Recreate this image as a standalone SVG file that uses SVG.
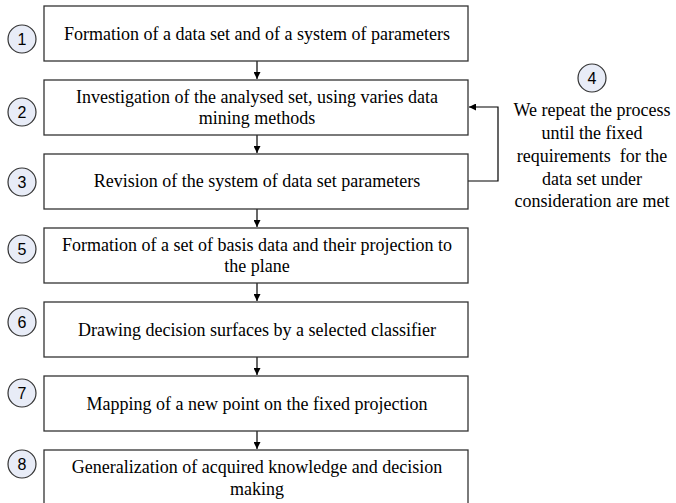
<svg xmlns="http://www.w3.org/2000/svg" width="676" height="503" viewBox="0 0 676 503">
  <defs>
    <style>
      .box { fill: #ffffff; stroke: #333333; stroke-width: 1.3; }
      .num { fill: #e8ecf7; stroke: #333333; stroke-width: 1.2; }
      .numtxt { font-family: "Liberation Sans", Arial, sans-serif; font-size: 16px; fill: #000; text-anchor: middle; }
      .lbl { font-family: "Liberation Serif", "Times New Roman", serif; font-size: 18px; fill: #000; text-anchor: middle; }
      .wire { fill: none; stroke: #000; stroke-width: 1.2; }
    </style>
    <marker id="arrow" viewBox="0 0 10 10" refX="10" refY="5" markerWidth="7" markerHeight="7" markerUnits="userSpaceOnUse" orient="auto">
      <path d="M0,0 L10,5 L0,10 z" fill="#000"/>
    </marker>
  </defs>

  <!-- connectors -->
  <g id="connectors">
    <line class="wire" x1="257" y1="61" x2="257" y2="79" marker-end="url(#arrow)"/>
    <line class="wire" x1="257" y1="135" x2="257" y2="153" marker-end="url(#arrow)"/>
    <line class="wire" x1="257" y1="209" x2="257" y2="227" marker-end="url(#arrow)"/>
    <line class="wire" x1="257" y1="283" x2="257" y2="301" marker-end="url(#arrow)"/>
    <line class="wire" x1="257" y1="357" x2="257" y2="375" marker-end="url(#arrow)"/>
    <line class="wire" x1="257" y1="431" x2="257" y2="449" marker-end="url(#arrow)"/>
    <polyline class="wire" points="468,181 498,181 498,107 469,107" marker-end="url(#arrow)"/>
  </g>

  <g id="step1">
    <rect class="box" x="44" y="6" width="424" height="55"/>
    <circle class="num" cx="22" cy="39" r="14"/>
    <text class="numtxt" x="22" y="45">1</text>
    <text class="lbl" x="257" y="40">Formation of a data set and of a system of parameters</text>
  </g>

  <g id="step2">
    <rect class="box" x="44" y="80" width="424" height="55"/>
    <circle class="num" cx="22" cy="112" r="14"/>
    <text class="numtxt" x="22" y="118">2</text>
    <text class="lbl" x="257" y="103">Investigation of the analysed set, using varies data</text>
    <text class="lbl" x="257" y="124">mining methods</text>
  </g>

  <g id="step3">
    <rect class="box" x="44" y="154" width="424" height="55"/>
    <circle class="num" cx="22" cy="182" r="14"/>
    <text class="numtxt" x="22" y="188">3</text>
    <text class="lbl" x="257" y="187">Revision of the system of data set parameters</text>
  </g>

  <g id="step4">
    <circle class="num" cx="592" cy="78" r="14"/>
    <text class="numtxt" x="592" y="84">4</text>
    <text class="lbl" x="592" y="116">We repeat the process</text>
    <text class="lbl" x="592" y="139">until the fixed</text>
    <text class="lbl" x="592" y="162" xml:space="preserve">requirements  for the</text>
    <text class="lbl" x="592" y="185">data set under</text>
    <text class="lbl" x="592" y="207">consideration are met</text>
  </g>

  <g id="step5">
    <rect class="box" x="44" y="228" width="424" height="55"/>
    <circle class="num" cx="22" cy="249" r="14"/>
    <text class="numtxt" x="22" y="255">5</text>
    <text class="lbl" x="257" y="251">Formation of a set of basis data and their projection to</text>
    <text class="lbl" x="257" y="272">the plane</text>
  </g>

  <g id="step6">
    <rect class="box" x="44" y="302" width="424" height="55"/>
    <circle class="num" cx="22" cy="322" r="14"/>
    <text class="numtxt" x="22" y="328">6</text>
    <text class="lbl" x="257" y="336">Drawing decision surfaces by a selected classifier</text>
  </g>

  <g id="step7">
    <rect class="box" x="44" y="376" width="424" height="55"/>
    <circle class="num" cx="22" cy="393" r="14"/>
    <text class="numtxt" x="22" y="399">7</text>
    <text class="lbl" x="257" y="410">Mapping of a new point on the fixed projection</text>
  </g>

  <g id="step8">
    <rect class="box" x="44" y="450" width="424" height="55"/>
    <circle class="num" cx="22" cy="464" r="14"/>
    <text class="numtxt" x="22" y="470">8</text>
    <text class="lbl" x="257" y="473">Generalization of acquired knowledge and decision</text>
    <text class="lbl" x="257" y="495">making</text>
  </g>
</svg>
